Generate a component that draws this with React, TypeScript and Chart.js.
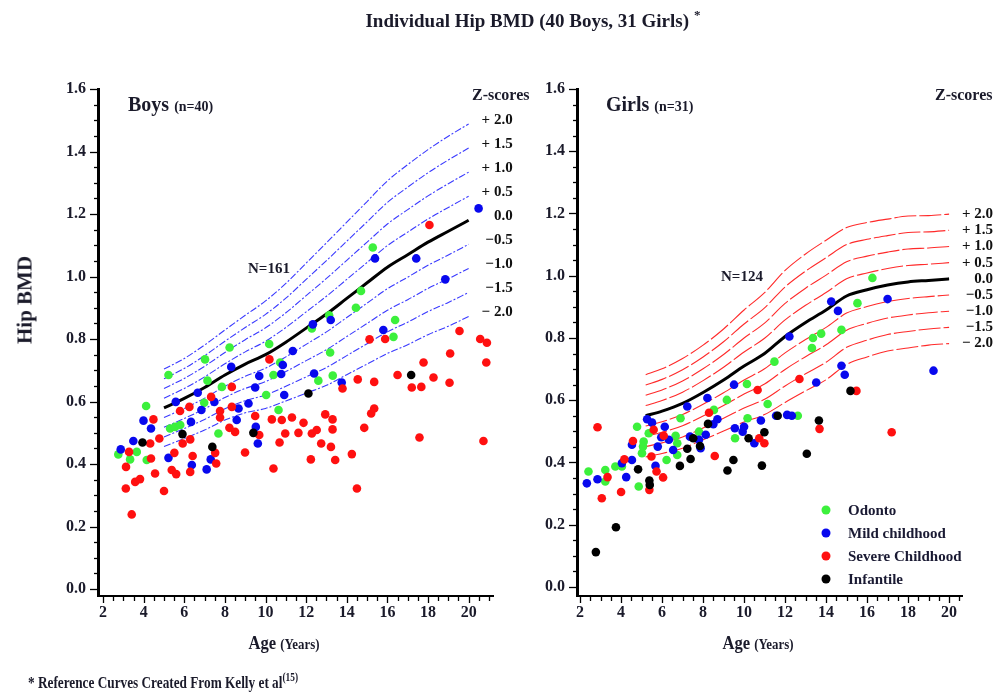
import React, { useEffect, useRef } from "react";
import { Chart, registerables } from "chart.js";
Chart.register(...registerables);

// ---------- tick labels & categories ----------
const Y_TICKS = [0, 0.2, 0.4, 0.6, 0.8, 1.0, 1.2, 1.4, 1.6];
const X_TICKS = [2, 4, 6, 8, 10, 12, 14, 16, 18, 20];
const Z_LABELS = ["+ 2.0", "+ 1.5", "+ 1.0", "+ 0.5", "0.0", "\u22120.5", "\u22121.0", "\u22121.5", "\u2212 2.0"];
const GROUPS = ["Odonto", "Mild childhood", "Severe Childhood", "Infantile"];
const GROUP_COLORS = ["#3cf03c", "#0808ee", "#ff1010", "#000000"];

// ---------- boys reference curves (Z-scores) ----------
const boysCurveAges = [5, 6, 7, 8, 9, 10, 11, 12, 13, 14, 15, 16, 17, 18, 19, 20];
const boysZp20 = [0.704, 0.738, 0.781, 0.829, 0.876, 0.922, 0.978, 1.043, 1.108, 1.174, 1.24, 1.306, 1.358, 1.406, 1.449, 1.488];
const boysZp15 = [0.673, 0.706, 0.747, 0.793, 0.837, 0.879, 0.931, 0.991, 1.051, 1.113, 1.175, 1.237, 1.286, 1.332, 1.373, 1.411];
const boysZp10 = [0.642, 0.674, 0.713, 0.757, 0.798, 0.836, 0.884, 0.939, 0.994, 1.052, 1.11, 1.168, 1.214, 1.258, 1.297, 1.334];
const boysZp05 = [0.611, 0.642, 0.679, 0.721, 0.759, 0.793, 0.837, 0.887, 0.937, 0.991, 1.045, 1.099, 1.142, 1.184, 1.221, 1.257];
const boysZ00 = [0.58, 0.61, 0.645, 0.685, 0.72, 0.75, 0.79, 0.835, 0.88, 0.93, 0.98, 1.03, 1.07, 1.11, 1.145, 1.18];
const boysZm05 = [0.549, 0.578, 0.611, 0.649, 0.681, 0.707, 0.743, 0.783, 0.823, 0.869, 0.915, 0.961, 0.998, 1.036, 1.069, 1.103];
const boysZm10 = [0.518, 0.546, 0.577, 0.613, 0.642, 0.664, 0.696, 0.731, 0.766, 0.808, 0.85, 0.892, 0.926, 0.962, 0.993, 1.026];
const boysZm15 = [0.487, 0.514, 0.543, 0.577, 0.603, 0.621, 0.649, 0.679, 0.709, 0.747, 0.785, 0.823, 0.854, 0.888, 0.917, 0.949];
const boysZm20 = [0.456, 0.482, 0.509, 0.541, 0.564, 0.578, 0.602, 0.627, 0.652, 0.686, 0.72, 0.754, 0.782, 0.814, 0.841, 0.872];

// ---------- girls reference curves (Z-scores) ----------
const girlsCurveAges = [5.2, 6, 7, 8, 9, 10, 11, 12, 13, 14, 15, 16, 17, 18, 19, 20];
const girlsZp20 = [0.682, 0.701, 0.734, 0.777, 0.829, 0.89, 0.946, 1.017, 1.07, 1.114, 1.155, 1.171, 1.182, 1.192, 1.193, 1.198];
const girlsZp15 = [0.649, 0.667, 0.698, 0.739, 0.788, 0.845, 0.897, 0.964, 1.015, 1.058, 1.1, 1.117, 1.129, 1.139, 1.141, 1.146];
const girlsZp10 = [0.616, 0.633, 0.662, 0.701, 0.747, 0.8, 0.848, 0.911, 0.96, 1.002, 1.045, 1.063, 1.076, 1.086, 1.089, 1.094];
const girlsZp05 = [0.583, 0.599, 0.626, 0.663, 0.706, 0.755, 0.799, 0.858, 0.905, 0.946, 0.99, 1.009, 1.023, 1.033, 1.037, 1.042];
const girlsZ00 = [0.55, 0.565, 0.59, 0.625, 0.665, 0.71, 0.75, 0.805, 0.85, 0.89, 0.935, 0.955, 0.97, 0.98, 0.985, 0.99];
const girlsZm05 = [0.517, 0.531, 0.554, 0.587, 0.624, 0.665, 0.701, 0.752, 0.795, 0.834, 0.88, 0.901, 0.917, 0.927, 0.933, 0.938];
const girlsZm10 = [0.484, 0.497, 0.518, 0.549, 0.583, 0.62, 0.652, 0.699, 0.74, 0.778, 0.825, 0.847, 0.864, 0.874, 0.881, 0.886];
const girlsZm15 = [0.451, 0.463, 0.482, 0.511, 0.542, 0.575, 0.603, 0.646, 0.685, 0.722, 0.77, 0.793, 0.811, 0.821, 0.829, 0.834];
const girlsZm20 = [0.418, 0.429, 0.446, 0.473, 0.501, 0.53, 0.554, 0.593, 0.63, 0.666, 0.715, 0.739, 0.758, 0.768, 0.777, 0.782];

// ---------- individual points [age, hip BMD] ----------
const boysOdonto = [
  [2.75, 0.431], [3.33, 0.415], [3.66, 0.439], [4.12, 0.586], [4.15, 0.413], [5.22, 0.685], [5.3, 0.514],
  [5.55, 0.519], [5.8, 0.525], [7.02, 0.735], [7.14, 0.667], [6.98, 0.596], [7.68, 0.498], [7.85, 0.647],
  [8.23, 0.773], [10.03, 0.621], [10.18, 0.784], [10.39, 0.685], [10.64, 0.573], [10.72, 0.725], [12.6, 0.667],
  [13.18, 0.757], [13.31, 0.683], [16.3, 0.807], [15.28, 1.093], [14.7, 0.954], [14.45, 0.9], [13.13, 0.876],
  [12.28, 0.834], [16.38, 0.861],
];
const boysMild = [
  [2.87, 0.447], [3.49, 0.474], [3.99, 0.539], [4.36, 0.514], [5.22, 0.42], [5.58, 0.599], [6.33, 0.535],
  [6.37, 0.397], [6.66, 0.628], [6.84, 0.573], [7.1, 0.383], [7.3, 0.415], [7.48, 0.599], [8.31, 0.711],
  [8.67, 0.578], [9.16, 0.594], [8.58, 0.541], [9.49, 0.645], [9.52, 0.519], [9.62, 0.466], [9.69, 0.682],
  [10.77, 0.688], [10.85, 0.717], [10.92, 0.621], [11.34, 0.762], [12.39, 0.69], [13.75, 0.661], [15.8, 0.829],
  [20.49, 1.218], [15.39, 1.058], [17.42, 1.058], [18.85, 0.991], [12.33, 0.847], [13.21, 0.861],
];
const boysSevere = [
  [3.13, 0.391], [3.12, 0.322], [3.28, 0.439], [3.41, 0.239], [3.58, 0.343], [3.82, 0.352], [4.32, 0.466],
  [4.36, 0.418], [4.48, 0.543], [4.56, 0.37], [4.77, 0.482], [5.0, 0.314], [5.38, 0.381], [5.51, 0.436],
  [5.6, 0.368], [5.79, 0.57], [5.92, 0.466], [6.25, 0.583], [6.29, 0.479], [6.29, 0.375], [6.41, 0.426],
  [7.32, 0.615], [7.52, 0.436], [7.57, 0.402], [7.76, 0.57], [7.76, 0.549], [8.34, 0.583], [8.34, 0.647],
  [8.22, 0.516], [8.5, 0.503], [8.99, 0.437], [9.49, 0.554], [9.69, 0.493], [10.19, 0.735], [10.31, 0.543],
  [10.39, 0.386], [10.69, 0.469], [10.8, 0.541], [10.97, 0.498], [11.3, 0.549], [11.62, 0.5], [11.87, 0.532],
  [12.23, 0.415], [12.28, 0.498], [12.52, 0.509], [12.74, 0.466], [12.94, 0.559], [13.22, 0.455], [13.3, 0.543],
  [13.3, 0.511], [13.43, 0.413], [13.79, 0.642], [14.25, 0.432], [14.5, 0.322], [14.54, 0.671], [14.86, 0.516],
  [15.2, 0.562], [15.35, 0.578], [15.35, 0.663], [15.12, 0.799], [15.89, 0.8], [16.5, 0.685], [17.2, 0.645],
  [17.67, 0.647], [17.58, 0.485], [17.78, 0.725], [18.27, 0.677], [19.06, 0.66], [19.09, 0.754], [19.55, 0.826],
  [20.57, 0.8], [20.9, 0.788], [20.87, 0.725], [20.73, 0.474], [18.07, 1.165],
];
const boysInfantile = [
  [3.94, 0.469], [5.91, 0.496], [7.38, 0.455], [9.4, 0.5], [12.11, 0.626], [17.17, 0.685],
];

const girlsOdonto = [
  [2.41, 0.371], [3.23, 0.376], [3.23, 0.339], [3.72, 0.387], [4.04, 0.387], [4.78, 0.515], [4.86, 0.323],
  [5.02, 0.43], [5.1, 0.467], [5.07, 0.451], [5.35, 0.494], [6.22, 0.408], [6.66, 0.486], [6.74, 0.462],
  [6.74, 0.424], [6.9, 0.542], [7.8, 0.499], [8.53, 0.569], [9.16, 0.601], [9.56, 0.478], [10.14, 0.652],
  [10.17, 0.542], [11.15, 0.588], [11.48, 0.724], [12.62, 0.55], [13.31, 0.768], [13.36, 0.8], [13.76, 0.814],
  [14.75, 0.826], [16.26, 0.993], [15.53, 0.912],
];
const girlsMild = [
  [2.33, 0.333], [2.85, 0.346], [4.04, 0.398], [4.25, 0.353], [4.53, 0.457], [4.53, 0.408], [5.27, 0.539],
  [5.51, 0.528], [5.68, 0.389], [5.79, 0.451], [5.96, 0.481], [6.13, 0.515], [6.33, 0.473], [6.54, 0.44],
  [7.23, 0.58], [7.36, 0.483], [7.8, 0.473], [7.88, 0.446], [8.13, 0.489], [8.21, 0.607], [8.5, 0.523],
  [8.7, 0.539], [9.51, 0.65], [9.55, 0.51], [9.93, 0.499], [10.0, 0.515], [10.5, 0.462], [10.82, 0.535],
  [11.56, 0.55], [12.1, 0.553], [12.33, 0.55], [12.21, 0.805], [13.52, 0.657], [14.75, 0.711], [14.91, 0.682],
  [19.24, 0.695], [14.25, 0.917], [14.58, 0.887], [17.0, 0.925],
];
const girlsSevere = [
  [2.85, 0.513], [3.06, 0.285], [3.34, 0.353], [4.0, 0.305], [4.16, 0.41], [4.58, 0.469], [5.38, 0.312],
  [5.48, 0.419], [5.59, 0.505], [5.73, 0.371], [6.05, 0.352], [6.08, 0.486], [8.29, 0.56], [8.57, 0.421],
  [10.66, 0.633], [10.74, 0.478], [10.99, 0.462], [12.7, 0.668], [13.68, 0.508], [15.48, 0.63], [17.2, 0.497],
  [20.87, 0.716],
];
const girlsInfantile = [
  [2.77, 0.112], [3.75, 0.192], [4.83, 0.378], [5.38, 0.342], [5.4, 0.328], [6.87, 0.389], [7.23, 0.444],
  [7.39, 0.411], [7.52, 0.478], [7.85, 0.453], [8.24, 0.524], [9.19, 0.374], [9.48, 0.408], [10.22, 0.478],
  [10.87, 0.39], [10.99, 0.497], [11.64, 0.55], [13.06, 0.428], [13.65, 0.535], [15.19, 0.63],
];

const FONT = '"Liberation Serif", "Times New Roman", serif';

type Panel = {
  padLeft: number;
  padRight: number;
  yWidth: number;
  xMin: number;
  xMax: number;
  yMin: number;
  ages: number[];
  curves: number[][];
  curveColor: string;
  curveDash: number[];
  points: number[][][];
  legend: boolean;
  labelDx: number;
  labelDy: number;
};

const BOYS: Panel = {
  padLeft: 0, padRight: 503, yWidth: 98, xMin: 1.75, xMax: 21.2, yMin: -0.022,
  ages: boysCurveAges,
  curves: [boysZp20, boysZp15, boysZp10, boysZp05, boysZ00, boysZm05, boysZm10, boysZm15, boysZm20],
  curveColor: "#3a3aff", curveDash: [7, 2, 2, 2],
  points: [boysOdonto, boysMild, boysSevere, boysInfantile],
  legend: false, labelDx: 44, labelDy: -4,
};
const GIRLS: Panel = {
  padLeft: 480, padRight: 34, yWidth: 97, xMin: 1.85, xMax: 20.63, yMin: -0.029,
  ages: girlsCurveAges,
  curves: [girlsZp20, girlsZp15, girlsZp10, girlsZp05, girlsZ00, girlsZm05, girlsZm10, girlsZm15, girlsZm20],
  curveColor: "#ff2a2a", curveDash: [22, 3],
  points: [girlsOdonto, girlsMild, girlsSevere, girlsInfantile],
  legend: true, labelDx: 44, labelDy: 0,
};

function makeConfig(p: Panel): any {
  const datasets: any[] = [];
  p.curves.forEach((arr, i) => {
    const median = i === 4;
    datasets.push({
      label: Z_LABELS[i],
      showLine: true,
      data: p.ages.map((a, j) => ({ x: a, y: arr[j] })),
      borderColor: median ? "#000" : p.curveColor,
      borderWidth: median ? 3 : 1.1,
      borderDash: median ? [] : p.curveDash,
      pointRadius: 0,
      tension: 0.4,
      cubicInterpolationMode: "monotone",
      order: 10,
      clip: false,
    });
  });
  p.points.forEach((pts, k) => {
    datasets.push({
      label: GROUPS[k],
      data: pts.map(([x, y]) => ({ x, y })),
      backgroundColor: GROUP_COLORS[k],
      borderColor: GROUP_COLORS[k],
      borderWidth: 0,
      pointRadius: 4.3,
      pointStyle: "circle",
      order: 4 - k,
      clip: false,
    });
  });

  const tickFont = { family: FONT, size: 16, weight: "bold" };

  const decor = {
    id: "decor",
    afterDraw(chart: any) {
      const ctx = chart.ctx;
      const { left, bottom } = chart.chartArea;
      const xs = chart.scales.x;
      const ys = chart.scales.y;
      ctx.save();
      ctx.strokeStyle = "#000";
      ctx.lineWidth = 1.3;
      // y ticks
      for (let i = 0; i <= 32; i++) {
        const v = i * 0.05;
        const y = Math.round(ys.getPixelForValue(v)) + 0.5;
        const len = i % 4 === 0 ? 8 : 4;
        ctx.beginPath();
        ctx.moveTo(left - len, y);
        ctx.lineTo(left, y);
        ctx.stroke();
      }
      // x ticks
      for (let v = 2; v <= p.xMax + 1e-6; v += 0.5) {
        const x = Math.round(xs.getPixelForValue(v)) + 0.5;
        const len = v % 2 === 0 ? 7 : 5;
        ctx.beginPath();
        ctx.moveTo(x, bottom);
        ctx.lineTo(x, bottom + len);
        ctx.stroke();
      }
      // z-score labels at curve ends
      ctx.fillStyle = "#111";
      ctx.font = `bold 15px ${FONT}`;
      ctx.textAlign = "right";
      ctx.textBaseline = "middle";
      for (let i = 0; i < 9; i++) {
        const meta = chart.getDatasetMeta(i);
        const last = meta.data[meta.data.length - 1];
        ctx.fillText(Z_LABELS[i], last.x + p.labelDx, last.y + p.labelDy);
      }
      // legend
      if (p.legend) {
        const lx = left + 249;
        const ly = chart.chartArea.top + 421;
        ctx.textAlign = "left";
        for (let k = 0; k < 4; k++) {
          const y = ly + k * 23;
          ctx.fillStyle = GROUP_COLORS[k];
          ctx.beginPath();
          ctx.arc(lx, y, 4.5, 0, Math.PI * 2);
          ctx.fill();
          ctx.fillStyle = "#1a1a33";
          ctx.fillText(GROUPS[k], lx + 22, y + 1);
        }
      }
      ctx.restore();
    },
  };

  return {
    type: "scatter",
    data: { datasets },
    plugins: [decor],
    options: {
      responsive: false,
      animation: false,
      devicePixelRatio: 1,
      events: [],
      layout: { padding: { left: p.padLeft, right: p.padRight, top: 89, bottom: 0 } },
      plugins: { legend: { display: false }, tooltip: { enabled: false }, title: { display: false } },
      scales: {
        x: {
          type: "linear",
          min: p.xMin,
          max: p.xMax,
          afterBuildTicks: (s: any) => { s.ticks = X_TICKS.map((v) => ({ value: v })); },
          afterFit: (s: any) => { s.height = 99; },
          grid: { display: true, drawOnChartArea: false, drawTicks: false },
          border: { display: true, color: "#000", width: 2 },
          ticks: { font: tickFont, color: "#1a1a2a", padding: 7, maxRotation: 0, autoSkip: false, callback: (v: any) => String(v) },
        },
        y: {
          type: "linear",
          min: p.yMin,
          max: 1.6,
          afterBuildTicks: (s: any) => { s.ticks = Y_TICKS.map((v) => ({ value: v })); },
          afterFit: (s: any) => { s.width = p.yWidth; },
          grid: { display: true, drawOnChartArea: false, drawTicks: false },
          border: { display: true, color: "#000", width: 3 },
          ticks: { font: tickFont, color: "#1a1a2a", padding: 12, autoSkip: false, callback: (v: any) => Number(v).toFixed(1) },
        },
      },
    },
  };
}

function PanelCanvas({ panel }: { panel: Panel }) {
  const ref = useRef<HTMLCanvasElement | null>(null);
  useEffect(() => {
    if (!ref.current) return;
    const chart = new Chart(ref.current, makeConfig(panel));
    return () => chart.destroy();
  }, [panel]);
  return (
    <canvas
      ref={ref}
      width={996}
      height={695}
      style={{ position: "absolute", left: 0, top: 0, width: 996, height: 695 }}
    />
  );
}

const txt = (left: number, top: number, extra: any = {}): any => ({
  position: "absolute",
  left,
  top,
  transform: "translate(-50%, -50%)",
  whiteSpace: "nowrap",
  lineHeight: 1,
  ...extra,
});
const txtL = (left: number, top: number, extra: any = {}): any => ({
  position: "absolute",
  left,
  top,
  transform: "translateY(-50%)",
  whiteSpace: "nowrap",
  lineHeight: 1,
  ...extra,
});

export default function App() {
  return (
    <div
      style={{
        position: "absolute",
        left: 0,
        top: 0,
        width: 996,
        height: 695,
        background: "#fff",
        overflow: "hidden",
        fontFamily: FONT,
        fontWeight: "bold",
        color: "#1a1a2a",
      }}
    >
      <PanelCanvas panel={BOYS} />
      <PanelCanvas panel={GIRLS} />

      <div style={txt(533, 19, { fontSize: 19, transform: "translate(-50%, -50%) scaleX(1)" })}>
        Individual Hip BMD (40 Boys, 31 Girls)<sup style={{ fontSize: 13, marginLeft: 5 }}>*</sup>
      </div>

      <div style={txt(25, 300, { fontSize: 21, transform: "translate(-50%, -50%) rotate(-90deg)" })}>Hip BMD</div>

      <div style={txtL(128, 104, { fontSize: 20 })}>
        Boys <span style={{ fontSize: 14 }}>(n=40)</span>
      </div>
      <div style={txtL(606, 104, { fontSize: 20 })}>
        Girls <span style={{ fontSize: 14 }}>(n=31)</span>
      </div>

      <div style={txtL(472, 95, { fontSize: 16 })}>Z-scores</div>
      <div style={txtL(935, 95, { fontSize: 16 })}>Z-scores</div>

      <div style={txtL(248, 268, { fontSize: 15 })}>N=161</div>
      <div style={txtL(721, 276, { fontSize: 15 })}>N=124</div>

      <div style={txt(284, 643, { fontSize: 18, transform: "translate(-50%, -50%) scaleX(0.92)" })}>
        Age <span style={{ fontSize: 14 }}>(Years)</span>
      </div>
      <div style={txt(758, 643, { fontSize: 18, transform: "translate(-50%, -50%) scaleX(0.92)" })}>
        Age <span style={{ fontSize: 14 }}>(Years)</span>
      </div>

      <div
        style={txtL(28, 681, {
          fontSize: 17,
          transform: "translateY(-50%) scaleX(0.78)",
          transformOrigin: "0 50%",
        })}
      >
        * Reference Curves Created From Kelly et al<sup style={{ fontSize: 12 }}>(15)</sup>
      </div>
    </div>
  );
}
